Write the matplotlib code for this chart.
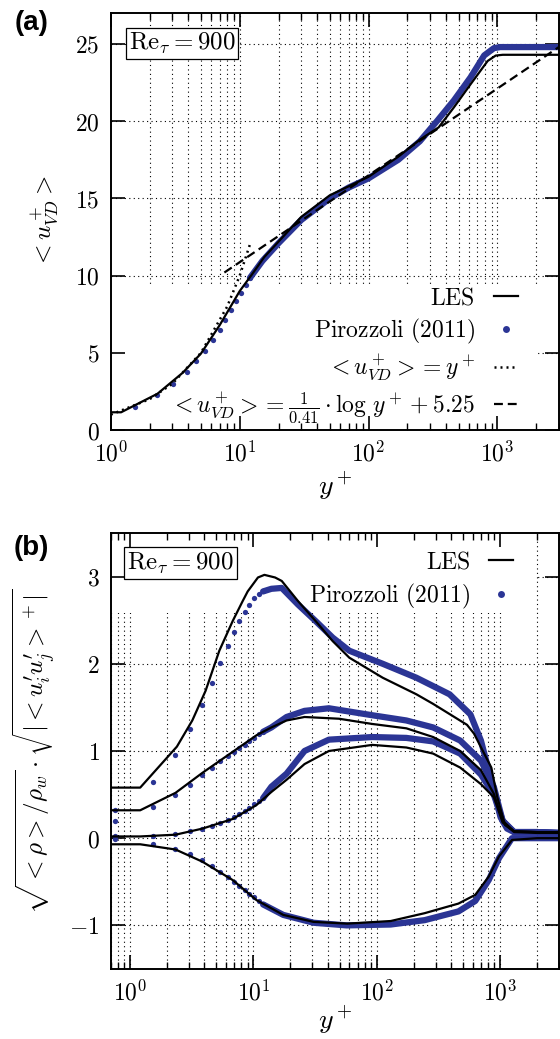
import matplotlib
matplotlib.use('Agg')
import matplotlib.pyplot as plt
from matplotlib.patches import Rectangle
from matplotlib.lines import Line2D
from matplotlib.ticker import LogLocator, FuncFormatter, NullFormatter
import numpy as np

plt.rcParams['mathtext.fontset'] = 'cm'
plt.rcParams['font.family'] = 'serif'
plt.rcParams['font.serif'] = ['DejaVu Serif']

blue = '#2b3595'
fs = 17

# ---- panel (a): mean velocity ----
a_les_y = [1.0, 1.2, 2.3, 3.6, 5.0, 7.0, 10.0, 12.5, 15.5, 20, 30, 50, 100, 170, 250, 350, 460, 620, 840, 970, 1100, 3000]
a_les_u = [1.15, 1.15, 2.35, 3.7, 4.95, 6.8, 9.0, 10.1, 11.2, 12.2, 13.8, 15.2, 16.4, 17.7, 18.8, 19.6, 20.9, 22.4, 23.9, 24.25, 24.3, 24.3]

a_dns_pts_y = [1.53, 2.3, 3.06, 3.87, 4.6, 5.4, 6.2, 7.0, 7.7, 8.5, 9.3, 10.2, 11.1, 12.0]
a_dns_pts_u = [1.5, 2.3, 3.0, 3.75, 4.45, 5.15, 5.85, 6.5, 7.15, 7.75, 8.35, 8.9, 9.4, 9.85]
a_dns_y = [12.0, 15, 20, 30, 50, 70, 100, 170, 250, 343, 460, 620, 790, 940, 1050, 3000]
a_dns_u = [9.85, 10.95, 12.1, 13.6, 15.0, 15.7, 16.3, 17.5, 18.7, 20.05, 21.35, 22.85, 24.26, 24.73, 24.8, 24.8]

visc_y = [1, 2, 3, 5, 8, 10, 12.2]
visc_u = [1, 2, 3, 5, 8, 10, 12.2]
log_y = [7.6, 3000]
log_u = [10.2, 24.8]

# ---- panel (b): Reynolds stresses ----
b_pts_y = [0.76, 1.53, 2.3, 3.06, 3.87, 4.6, 5.4, 6.2, 7.0, 7.7, 8.5, 9.3, 10.2, 11.1, 12.0]
b_pts_uu = [0.32, 0.64, 0.95, 1.25, 1.53, 1.78, 2.01, 2.2, 2.36, 2.49, 2.59, 2.67, 2.75, 2.8, 2.83]
b_pts_ww = [0.2, 0.36, 0.50, 0.61, 0.72, 0.80, 0.88, 0.94, 0.99, 1.03, 1.07, 1.11, 1.15, 1.19, 1.22]
b_pts_vv = [0.02, 0.03, 0.05, 0.08, 0.11, 0.14, 0.17, 0.21, 0.24, 0.28, 0.31, 0.35, 0.39, 0.43, 0.46]
b_pts_uv = [-0.01, -0.07, -0.12, -0.18, -0.25, -0.32, -0.39, -0.45, -0.5, -0.55, -0.6, -0.64, -0.68, -0.72, -0.76]

b_dns_uu_y = [12, 14, 17, 23, 32, 44, 60, 112, 210, 390, 575, 700, 890, 1010, 1140, 1300, 2000, 3000]
b_dns_uu = [2.83, 2.86, 2.87, 2.68, 2.49, 2.3, 2.15, 2.0, 1.84, 1.65, 1.42, 1.12, 0.55, 0.24, 0.11, 0.07, 0.07, 0.06]
b_dns_ww_y = [12, 14, 18.6, 26, 41, 92, 174, 287, 475, 700, 890, 1050, 1300, 2000, 3000]
b_dns_ww = [1.22, 1.27, 1.39, 1.46, 1.49, 1.41, 1.35, 1.27, 1.12, 0.89, 0.59, 0.2, 0.07, 0.07, 0.06]
b_dns_vv_y = [12, 14, 18.6, 26, 41, 92, 174, 287, 475, 700, 890, 1050, 1300, 2000, 3000]
b_dns_vv = [0.46, 0.59, 0.74, 1.0, 1.13, 1.16, 1.15, 1.11, 0.97, 0.73, 0.5, 0.2, 0.07, 0.07, 0.06]
b_dns_uv_y = [12, 17.5, 30.8, 57, 130, 245, 460, 630, 810, 980, 1250, 2000, 3000]
b_dns_uv = [-0.76, -0.88, -0.97, -1.0, -0.99, -0.94, -0.84, -0.72, -0.48, -0.23, 0.0, 0.0, 0.0]

b_les_uu_y = [0.7, 1.21, 2.4, 3.2, 4.1, 5.3, 6.8, 8.2, 9.0, 10.9, 12.3, 15, 17, 23, 32, 44, 60, 112, 210, 287, 540, 615, 850, 950, 1100, 1300, 2000, 3000]
b_les_uu = [0.58, 0.58, 1.05, 1.35, 1.69, 2.15, 2.49, 2.72, 2.83, 2.99, 3.02, 2.99, 2.95, 2.72, 2.49, 2.26, 2.07, 1.84, 1.65, 1.54, 1.3, 1.2, 0.81, 0.47, 0.15, 0.08, 0.07, 0.07]
b_les_ww_y = [0.7, 1.21, 2.34, 3.87, 6.8, 10.6, 14, 18.6, 26, 49.5, 92, 174, 287, 475, 700, 890, 1050, 1300, 2000, 3000]
b_les_ww = [0.32, 0.32, 0.52, 0.75, 0.99, 1.18, 1.27, 1.35, 1.39, 1.37, 1.31, 1.26, 1.16, 1.0, 0.78, 0.51, 0.2, 0.08, 0.07, 0.07]
b_les_vv_y = [0.7, 1.21, 2.34, 3.87, 6.8, 10.6, 14, 18.6, 26, 41, 92, 174, 287, 475, 700, 890, 1050, 1300, 2000, 3000]
b_les_vv = [0.02, 0.02, 0.04, 0.11, 0.22, 0.38, 0.53, 0.67, 0.85, 1.0, 1.07, 1.04, 0.97, 0.81, 0.62, 0.47, 0.18, 0.07, 0.06, 0.06]
b_les_uv_y = [0.7, 1.21, 2.34, 3.87, 6.8, 10.6, 17.5, 30.8, 57.7, 130, 245, 460, 630, 810, 980, 1250, 2000, 3000]
b_les_uv = [-0.07, -0.07, -0.13, -0.27, -0.48, -0.71, -0.88, -0.96, -0.98, -0.95, -0.86, -0.75, -0.65, -0.44, -0.21, -0.02, 0.0, 0.0]

dotted = (0, (0.8, 1.6))
dashed = (0, (4, 2.2))


def style(ax, xlim, ylim, yticks):
    ax.set_xscale('log')
    ax.set_xlim(*xlim)
    ax.set_ylim(*ylim)
    ax.set_yticks(yticks)
    ax.yaxis.set_major_formatter(FuncFormatter(lambda v, p: r'$%g$' % v))
    ax.xaxis.set_major_locator(LogLocator(10))
    ax.xaxis.set_minor_locator(LogLocator(10, subs=np.arange(2, 10)))
    ax.xaxis.set_major_formatter(FuncFormatter(lambda v, p: r'$10^{%d}$' % round(np.log10(v))))
    ax.xaxis.set_minor_formatter(NullFormatter())
    ax.tick_params(which='both', direction='in', top=True, right=True, labelsize=fs)
    ax.tick_params(which='major', length=10, width=1.2, pad=8)
    ax.tick_params(which='minor', length=5, width=1.0)
    for s in ax.spines.values():
        s.set_linewidth(1.4)
    xs = list(ax.xaxis.get_majorticklocs()) + list(ax.xaxis.get_minorticklocs())
    for x in xs:
        if xlim[0] < x < xlim[1]:
            ax.axvline(x, color='k', ls=(0, (1, 3)), lw=0.8, zorder=0.6)
    for y in yticks:
        if ylim[0] < y < ylim[1]:
            ax.axhline(y, color='k', ls=(0, (1, 3)), lw=0.8, zorder=0.6)


fig = plt.figure(figsize=(5.6, 10.39), dpi=100)
axa = fig.add_axes([0.198, 0.5861, 0.8, 0.4013])
axb = fig.add_axes([0.198, 0.0674, 0.8, 0.4196])

# (a)
style(axa, (1, 3000), (0, 27), [0, 5, 10, 15, 20, 25])
axa.add_patch(Rectangle((0.003, 0.005), 0.95, 0.338, transform=axa.transAxes,
                        facecolor='white', edgecolor='none', zorder=0.8))
axa.plot(a_dns_y, a_dns_u, color=blue, lw=4.5, solid_capstyle='round', zorder=2)
axa.plot(a_dns_pts_y, a_dns_pts_u, 'o', color=blue, ms=3.8, mew=0, zorder=2)
axa.plot(visc_y, visc_u, color='k', ls=dotted, lw=1.8, zorder=3)
axa.plot(log_y, log_u, color='k', ls=dashed, lw=1.6, zorder=3)
axa.plot(a_les_y, a_les_u, color='k', lw=1.6, zorder=4)

ha = [Line2D([], [], color='k', lw=1.6),
      Line2D([], [], color=blue, marker='o', ls='none', ms=5, mew=0),
      Line2D([], [], color='k', ls=dotted, lw=1.8),
      Line2D([], [], color='k', ls=dashed, lw=1.6)]
la = [r'$\mathrm{LES}$', r'$\mathrm{Pirozzoli\ (2011)}$', r'$<u^+_{VD}> = y^+$',
      r'$<u^+_{VD}> = \frac{1}{0.41}\cdot\log\,y^+ + 5.25$']
axa.legend(ha, la, loc='lower right', bbox_to_anchor=(0.908, 0.012), frameon=False,
           markerfirst=False, fontsize=fs, handlelength=1.0, handletextpad=0.8,
           labelspacing=0.3, borderpad=0, borderaxespad=0)
axa.text(0.04, 0.957, r'$\mathrm{Re}_\tau = 900$', transform=axa.transAxes, fontsize=18,
         ha='left', va='top', bbox=dict(boxstyle='square,pad=0.12', fc='white', ec='k', lw=0.9),
         zorder=5)
axa.set_ylabel(r'$<u^+_{VD}>$', fontsize=18)
axa.yaxis.set_label_coords(-0.114, 0.5)
axa.set_xlabel(r'$y^+$', fontsize=20)
axa.xaxis.set_label_coords(0.5, -0.095)

# (b)
style(axb, (0.7, 3000), (-1.5, 3.5), [-1, 0, 1, 2, 3])
axb.add_patch(Rectangle((0.0, 0.8165), 0.948, 0.1835, transform=axb.transAxes,
                        facecolor='white', edgecolor='none', zorder=0.8))
for yy, vv in [(b_dns_uu_y, b_dns_uu), (b_dns_ww_y, b_dns_ww), (b_dns_vv_y, b_dns_vv), (b_dns_uv_y, b_dns_uv)]:
    axb.plot(yy, vv, color=blue, lw=4.5, solid_capstyle='round', zorder=2)
for vv in [b_pts_uu, b_pts_ww, b_pts_vv, b_pts_uv]:
    axb.plot(b_pts_y, vv, 'o', color=blue, ms=3.8, mew=0, zorder=2)
for yy, vv in [(b_les_uu_y, b_les_uu), (b_les_ww_y, b_les_ww), (b_les_vv_y, b_les_vv), (b_les_uv_y, b_les_uv)]:
    axb.plot(yy, vv, color='k', lw=1.6, zorder=4)

axb.legend(ha[:2], la[:2], loc='upper right', bbox_to_anchor=(0.897, 0.96), frameon=False,
           markerfirst=False, fontsize=fs, handlelength=1.0, handletextpad=0.8,
           labelspacing=0.35, borderpad=0, borderaxespad=0)
axb.text(0.037, 0.96, r'$\mathrm{Re}_\tau = 900$', transform=axb.transAxes, fontsize=18,
         ha='left', va='top', bbox=dict(boxstyle='square,pad=0.12', fc='white', ec='k', lw=0.9),
         zorder=5)
axb.set_ylabel(r'$\sqrt{<\rho>/\rho_w}\cdot\sqrt{|<u_i^\prime u_j^\prime>^+|}$', fontsize=18)
axb.yaxis.set_label_coords(-0.12, 0.5)
axb.set_xlabel(r'$y^+$', fontsize=20)
axb.xaxis.set_label_coords(0.5, -0.08)

fig.text(0.056, 0.978, '(a)', fontsize=20, fontweight='bold', family='Liberation Sans',
         ha='center', va='center')
fig.text(0.056, 0.4726, '(b)', fontsize=20, fontweight='bold', family='Liberation Sans',
         ha='center', va='center')

fig.savefig('out.png', dpi=100)
